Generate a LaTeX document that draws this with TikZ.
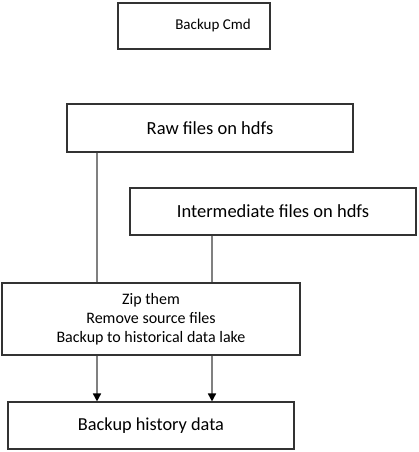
\documentclass[tikz,border=0pt]{standalone}
\usepackage{fontspec}
\setmainfont{Carlito}
\usetikzlibrary{arrows.meta}
\begin{document}
\begin{tikzpicture}[x=1pt,y=-1pt,
  box/.style={draw=black!80, line width=1.1pt, inner sep=0pt, align=center, fill=white},
  link/.style={draw=black!50, line width=1.6pt},
  arr/.style={link, -{Triangle[width=8pt,length=8pt,black]}}]
\useasboundingbox (0,0) rectangle (418,452);
\node[box, minimum width=152pt, minimum height=46pt, font=\fontsize{15}{18}\selectfont] (cmd) at (194,26) {\hspace*{38pt}Backup Cmd};
\node[box, minimum width=286pt, minimum height=48pt, font=\fontsize{18.5}{22}\selectfont] (raw) at (210,128) {Raw files on hdfs};
\node[box, minimum width=286pt, minimum height=47pt, font=\fontsize{18.5}{22}\selectfont] (inter) at (273,211.5) {Intermediate files on hdfs};
\node[box, minimum width=298pt, minimum height=72pt, font=\fontsize{16}{19}\selectfont] (zip) at (151,319) {Zip them\\Remove source files\\Backup to historical data lake};
\node[box, minimum width=286pt, minimum height=47pt, font=\fontsize{18.3}{22}\selectfont] (hist) at (151,425.5) {Backup history data};
\coordinate (xa) at (97,0);
\coordinate (xb) at (212,0);
\draw[link] (raw.south -| xa) -- (zip.north -| xa);
\draw[link] (inter.south -| xb) -- (zip.north -| xb);
\draw[arr] (zip.south -| xa) -- (hist.north -| xa);
\draw[arr] (zip.south -| xb) -- (hist.north -| xb);
\end{tikzpicture}
\end{document}
